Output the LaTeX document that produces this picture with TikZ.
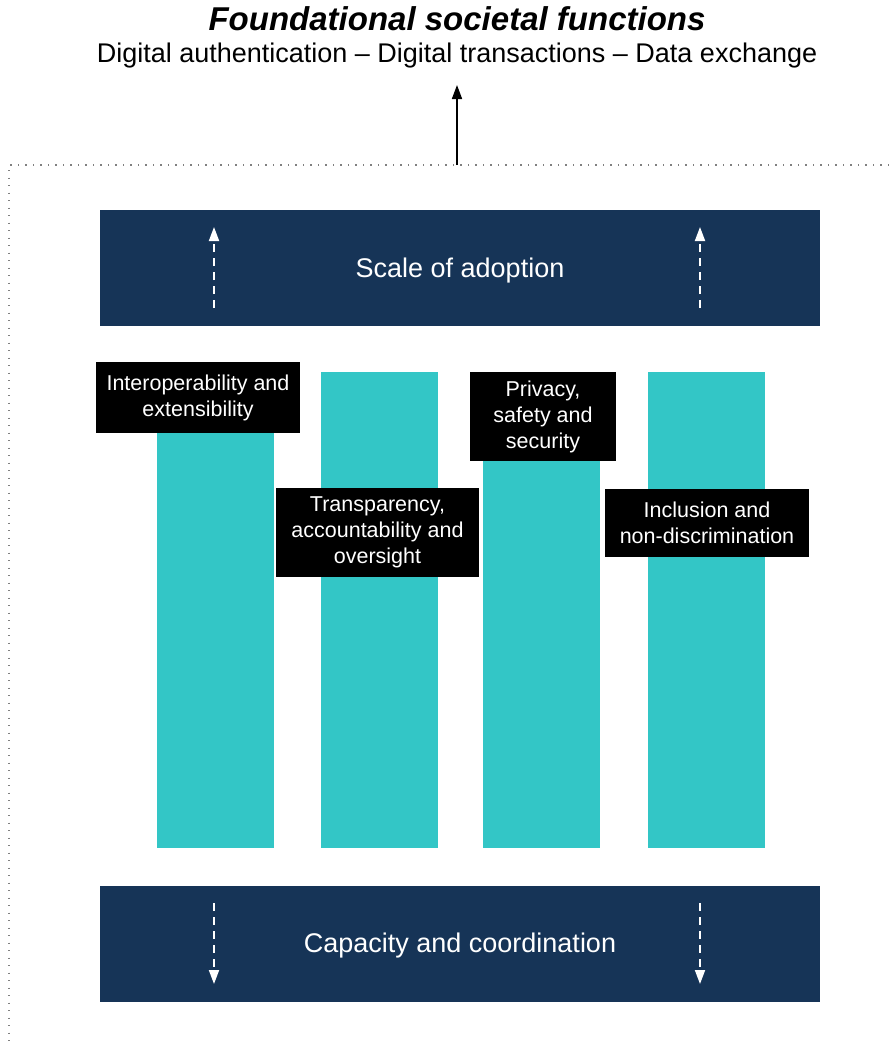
\documentclass[tikz,border=0pt]{standalone}
\usepackage{fontspec}
\setmainfont{Liberation Sans}
\usetikzlibrary{arrows.meta}
\definecolor{navy}{HTML}{163457}
\definecolor{teal}{HTML}{33C6C6}
\tikzset{
  bar/.style={fill=navy, draw=none},
  pillar/.style={fill=teal, draw=none},
  bartxt/.style={text=white, font=\fontsize{27}{30}\selectfont},
  lbl/.style={fill=black, text=white, align=center, font=\fontsize{21.5}{26}\selectfont, inner sep=0pt},
  dasharr/.style={white, line width=1.8pt, dash pattern=on 8pt off 6pt, -{Triangle[length=14pt,width=10pt]}},
}
\begin{document}
\begin{tikzpicture}[x=1pt,y=-1pt]
\useasboundingbox (0,0) rectangle (889,1047);
% title
\node[font=\bfseries\itshape\fontsize{33}{36}\selectfont] (title) at (457,19) {Foundational societal functions};
\node[font=\fontsize{27}{30}\selectfont] (sub) at (457,56) {Digital authentication – Digital transactions – Data exchange};
% dotted frame
\draw[gray, line width=1.2pt, dash pattern=on 1.2pt off 6.3pt] (889,165) -- (9,165) -- (9,1047);
\coordinate (fr) at (457,165);
\coordinate (arrtop) at (457,85);
\draw[black, line width=1.6pt, -{Triangle[length=14pt,width=10pt]}] (fr) -- (arrtop);
% bars
\node[bar, minimum width=720pt, minimum height=116pt, inner sep=0pt] (top) at (460,268) {};
\node[bartxt] (toptxt) at (460,271) {Scale of adoption};
\node[bar, minimum width=720pt, minimum height=116pt, inner sep=0pt] (bot) at (460,943.5) {};
\node[bartxt] (bottxt) at (460,946) {Capacity and coordination};
% dashed arrows
\coordinate (ua1s) at (214,308); \coordinate (ua1e) at (214,227);
\coordinate (ua2s) at (700,308); \coordinate (ua2e) at (700,227);
\draw[dasharr] (ua1s) -- (ua1e);
\draw[dasharr] (ua2s) -- (ua2e);
\coordinate (da1s) at (214,903); \coordinate (da1e) at (214,984);
\coordinate (da2s) at (700,903); \coordinate (da2e) at (700,984);
\draw[dasharr] (da1s) -- (da1e);
\draw[dasharr] (da2s) -- (da2e);
% pillars
\fill[teal] (157,372) rectangle (274,848);
\fill[teal] (321,372) rectangle (438,848);
\fill[teal] (483,372) rectangle (600,848);
\fill[teal] (648,372) rectangle (765,848);
% labels
\node[lbl, minimum width=204pt, minimum height=71pt] (l1) at (198,397.5) {Interoperability and\\extensibility};
\node[lbl, minimum width=203pt, minimum height=89pt] (l2) at (377.5,532.5) {Transparency,\\accountability and\\oversight};
\node[lbl, minimum width=146pt, minimum height=89pt] (l3) at (543,416.5) {Privacy,\\safety and\\security};
\node[lbl, minimum width=204pt, minimum height=68pt] (l4) at (707,523) {Inclusion and\\non-discrimination};
\end{tikzpicture}
\end{document}
